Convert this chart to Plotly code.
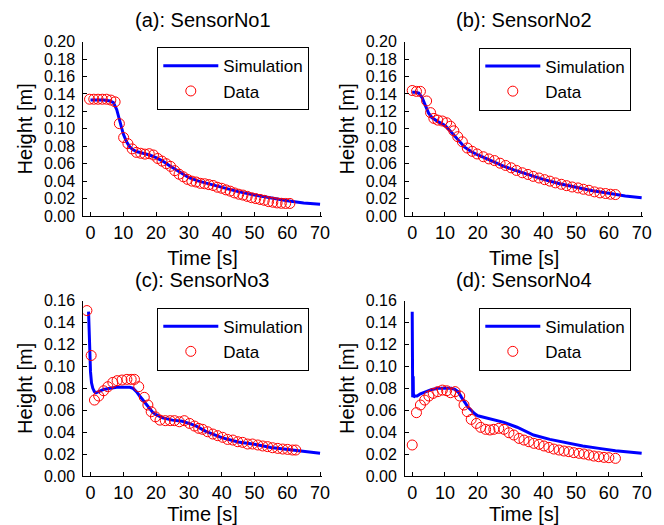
import plotly.graph_objects as go

# ---------------- data ----------------
titles = ["(a): SensorNo1", "(b): SensorNo2", "(c): SensorNo3", "(d): SensorNo4"]
x_ticks = [0, 10, 20, 30, 40, 50, 60, 70]

# Sensor 1
sim1_t = [0, 2, 4, 6, 7, 8, 9, 10, 11, 12, 13, 14, 16, 18, 20, 22, 24, 26, 28, 30, 33, 36, 40, 45, 50, 55, 60, 65, 70]
sim1_h = [0.133, 0.133, 0.133, 0.132, 0.130, 0.122, 0.108, 0.094, 0.085, 0.079, 0.076, 0.074, 0.072, 0.070, 0.067,
          0.063, 0.058, 0.053, 0.048, 0.044, 0.040, 0.037, 0.033, 0.028, 0.024, 0.0205, 0.0175, 0.015, 0.0135]
dat1_t = [-0.3, 1.0, 2.3, 3.6, 4.9, 6.2, 7.5, 8.8, 10.1, 11.4, 12.7, 14.0, 15.3, 16.6, 17.9, 19.2, 20.5, 21.8,
          23.1, 24.4, 25.7, 27.0, 28.3, 29.6, 30.9, 32.2, 33.5, 34.8, 36.1, 37.4, 38.7, 40.0, 41.3, 42.6, 43.9,
          45.2, 46.5, 47.8, 49.1, 50.4, 51.7, 53.0, 54.3, 55.6, 56.9, 58.2, 59.5, 60.8]
dat1_h = [0.134, 0.134, 0.134, 0.134, 0.134, 0.133, 0.131, 0.106, 0.090, 0.083, 0.077, 0.073, 0.072, 0.071,
          0.0715, 0.070, 0.066, 0.063, 0.060, 0.057, 0.052, 0.048, 0.045, 0.042, 0.040, 0.039, 0.0375, 0.037,
          0.036, 0.035, 0.033, 0.0318, 0.030, 0.0285, 0.0265, 0.025, 0.024, 0.0225, 0.021, 0.020, 0.019, 0.018,
          0.0165, 0.0158, 0.015, 0.0146, 0.0144, 0.0144]

# Sensor 2
sim2_t = [0, 1, 2, 3, 4, 5, 6, 7, 8, 9, 10, 11, 12, 13, 14, 15, 16, 18, 20, 22, 25, 28, 31, 35, 40, 45, 50, 55, 60, 65, 70]
sim2_h = [0.142, 0.142, 0.141, 0.136, 0.127, 0.118, 0.113, 0.110, 0.108, 0.106, 0.104, 0.100, 0.096, 0.091, 0.087,
          0.083, 0.079, 0.074, 0.070, 0.067, 0.062, 0.057, 0.053, 0.048, 0.042, 0.037, 0.033, 0.029, 0.026, 0.023, 0.021]
dat2_t = [0.0, 1.3, 2.5, 4.4, 5.6, 6.6, 7.8, 9.2, 10.5, 11.7, 12.7, 13.9, 15.3, 16.8, 18.3, 19.8, 21.7, 23.4,
          25.1, 26.8, 28.5, 30.2, 31.8, 33.6, 35.3, 36.9, 38.7, 40.4, 42.0, 43.7, 45.5, 47.1, 48.8, 50.6, 52.2,
          53.9, 55.6, 57.3, 59.0, 60.5, 62.0]
dat2_h = [0.144, 0.143, 0.143, 0.132, 0.1186, 0.112, 0.110, 0.109, 0.107, 0.103, 0.0977, 0.091, 0.0852, 0.078,
          0.0742, 0.0712, 0.068, 0.0655, 0.0636, 0.0606, 0.058, 0.0553, 0.0523, 0.0496, 0.0477, 0.0455, 0.0436,
          0.0417, 0.040, 0.038, 0.0364, 0.0348, 0.0333, 0.0322, 0.0307, 0.0295, 0.0277, 0.0265, 0.0258, 0.025, 0.0246]

# Sensor 3
sim3_t = [-0.6, -0.4, -0.2, 0, 0.3, 0.7, 1.2, 1.7, 2.5, 4, 6, 8, 10, 12, 13, 14, 15, 16, 17, 18, 19, 20, 22, 25,
          28, 30, 32, 35, 40, 45, 50, 55, 60, 65, 70]
sim3_h = [0.150, 0.130, 0.110, 0.095, 0.085, 0.080, 0.077, 0.076, 0.077, 0.079, 0.080, 0.081, 0.081, 0.081, 0.080,
          0.077, 0.073, 0.069, 0.065, 0.061, 0.058, 0.056, 0.053, 0.051, 0.050, 0.048, 0.046, 0.041, 0.035, 0.031,
          0.029, 0.026, 0.0245, 0.0225, 0.0208]
dat3_t = [-1.1, 0.2, 1.2, 2.5, 4.0, 5.3, 6.8, 8.1, 9.6, 11.1, 12.4, 13.4, 14.7, 16.4, 17.5, 18.5, 19.8, 21.2,
          22.8, 24.3, 25.6, 27.1, 28.6, 30.2, 31.7, 33.0, 34.2, 35.7, 37.3, 38.8, 40.3, 41.8, 43.4, 44.9, 46.4,
          47.9, 49.4, 51.0, 52.5, 54.0, 55.5, 57.1, 58.6, 60.1, 61.6, 62.6]
dat3_h = [0.151, 0.110, 0.0693, 0.073, 0.0778, 0.0815, 0.0854, 0.087, 0.0876, 0.0882, 0.0882, 0.0882, 0.0815,
          0.0718, 0.0648, 0.0587, 0.054, 0.051, 0.0505, 0.0505, 0.0505, 0.0495, 0.0505, 0.048, 0.0456, 0.0435,
          0.0426, 0.0404, 0.0383, 0.0368, 0.0353, 0.0334, 0.0328, 0.0313, 0.0307, 0.0292, 0.0292, 0.0283, 0.0274,
          0.0268, 0.0258, 0.0252, 0.0246, 0.0243, 0.0237, 0.0237]

# Sensor 4
sim4_t = [0, 0.05, 0.15, 0.25, 0.3, 0.35, 0.45, 0.8, 1.5, 2.5, 4, 6, 8, 10, 12, 13, 14, 15, 16, 17, 18, 19, 20,
          22, 25, 28, 32, 37, 42, 47, 52, 57, 62, 70]
sim4_h = [0.150, 0.110, 0.072, 0.080, 0.091, 0.076, 0.072, 0.073, 0.073, 0.075, 0.077, 0.079, 0.080, 0.080, 0.080,
          0.079, 0.077, 0.072, 0.067, 0.063, 0.060, 0.057, 0.055, 0.0535, 0.051, 0.049, 0.0445, 0.0374, 0.0334,
          0.0304, 0.0274, 0.0252, 0.0231, 0.0207]
dat4_t = [0.0, 1.3, 2.5, 3.8, 5.1, 6.4, 7.8, 9.2, 10.5, 11.7, 13.1, 14.5, 15.8, 16.8, 18.0, 19.6, 20.9, 22.4,
          23.7, 24.9, 26.4, 28.0, 29.5, 31.0, 32.6, 34.1, 35.6, 37.1, 38.7, 40.2, 41.7, 43.2, 44.8, 46.3, 47.8,
          49.3, 50.9, 52.4, 53.9, 55.4, 56.9, 58.5, 60.0, 62.0]
dat4_h = [0.0283, 0.0578, 0.0648, 0.0693, 0.073, 0.0754, 0.077, 0.0784, 0.0778, 0.076, 0.077, 0.073, 0.0648,
          0.0587, 0.0517, 0.048, 0.0444, 0.0426, 0.042, 0.0426, 0.0435, 0.0426, 0.0395, 0.0374, 0.0343, 0.0328,
          0.0313, 0.0298, 0.0289, 0.0274, 0.0261, 0.0246, 0.0237, 0.0228, 0.0222, 0.0213, 0.0207, 0.0201, 0.0192,
          0.0182, 0.0176, 0.017, 0.0167, 0.0161]

y_max = [0.20, 0.20, 0.16, 0.16]

# ---------------- layout ----------------
# The page body has an 8px margin, so the figure is drawn 8px smaller and
# all screen positions are shifted by OFF.
OFF = 8
W, H = 664 - OFF, 525 - OFF
FONT = "Arial, Liberation Sans, sans-serif"

col_px = [(83.3, 321.7), (405.0, 643.3)]
row_px = [(41.7, 216.0), (300.7, 476.0)]   # (top, bottom) in screen px
x_range = [-2.2, 70.5]

sims = [(sim1_t, sim1_h), (sim2_t, sim2_h), (sim3_t, sim3_h), (sim4_t, sim4_h)]
dats = [(dat1_t, dat1_h), (dat2_t, dat2_h), (dat3_t, dat3_h), (dat4_t, dat4_h)]
legend_px = [(157.3, 47.3), (479.3, 47.5), (157.3, 307.7), (479.3, 307.7)]
title_y_px = [20, 20, 280, 280]


def fx(px):
    return (px - OFF) / W


def fy(py):
    return (H - (py - OFF)) / H


fig = go.Figure()
layout = dict(
    width=W, height=H, autosize=False,
    margin=dict(l=0, r=0, t=0, b=0),
    paper_bgcolor="white", plot_bgcolor="white",
    font=dict(family=FONT, color="black"),
    showlegend=True,
)
annotations = []

for i in range(4):
    r, c = divmod(i, 2)
    sfx = "" if i == 0 else str(i + 1)
    leg = "legend" if i == 0 else f"legend{i + 1}"
    st, sh = sims[i]
    dt, dh = dats[i]
    fig.add_trace(go.Scatter(
        x=st, y=sh, mode="lines", name="Simulation",
        line=dict(color="#0000ff", width=3),
        xaxis="x" + sfx, yaxis="y" + sfx, legend=leg, hoverinfo="skip"))
    fig.add_trace(go.Scatter(
        x=dt, y=dh, mode="markers", name="Data",
        marker=dict(symbol="circle-open", size=10, color="#ff0000", line=dict(width=1, color="#ff0000")),
        xaxis="x" + sfx, yaxis="y" + sfx, legend=leg, hoverinfo="skip"))

    x0, x1 = col_px[c]
    top, bot = row_px[r]
    layout["xaxis" + sfx] = dict(
        domain=[fx(x0), fx(x1)], anchor="y" + sfx, range=x_range,
        tickvals=x_ticks, ticks="inside", ticklen=4, tickcolor="black",
        showline=True, linecolor="black", linewidth=1, mirror=False,
        showgrid=False, zeroline=False, automargin=False,
        tickfont=dict(size=18, family=FONT, color="black"),
        title=dict(text="Time [s]", font=dict(size=20, family=FONT, color="black"), standoff=9),
    )
    layout["yaxis" + sfx] = dict(
        domain=[fy(bot), fy(top)], anchor="x" + sfx, range=[0, y_max[i]],
        dtick=0.02, tick0=0, tickformat=".2f", ticks="inside", ticklen=4, tickcolor="black",
        showline=True, linecolor="black", linewidth=1, mirror=False,
        showgrid=False, zeroline=False, automargin=False,
        tickfont=dict(size=16, family=FONT, color="black"), ticklabelstandoff=4,
        title=dict(text="Height [m]", font=dict(size=20, family=FONT, color="black"), standoff=5),
    )
    lx, ly = legend_px[i]
    layout[leg] = dict(
        x=fx(lx), y=fy(ly), xanchor="left", yanchor="top",
        xref="paper", yref="paper",
        bgcolor="white", bordercolor="black", borderwidth=1,
        font=dict(size=17, family=FONT, color="black"),
        itemwidth=55, tracegroupgap=0,
    )
    annotations.append(dict(
        text=titles[i], x=fx((x0 + x1) / 2), y=fy(title_y_px[i]),
        xref="paper", yref="paper", xanchor="center", yanchor="middle",
        showarrow=False, font=dict(size=20, family=FONT, color="black")))

layout["annotations"] = annotations
fig.update_layout(**layout)
fig.write_html("out.html")
